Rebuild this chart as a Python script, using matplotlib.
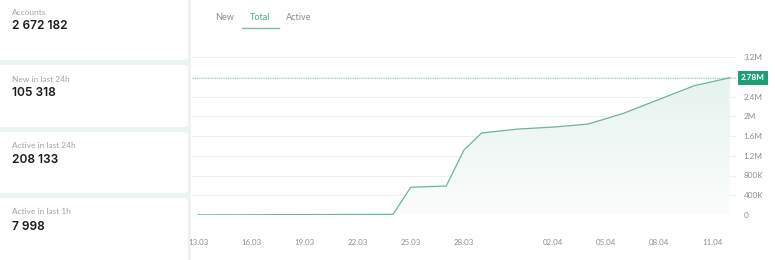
import numpy as np
import matplotlib
matplotlib.use("Agg")
import matplotlib.pyplot as plt
from matplotlib.patches import FancyBboxPatch, Polygon, Rectangle
from matplotlib.colors import LinearSegmentedColormap

# card data
card_labels = ["Accounts", "New in last 24h", "Active in last 24h", "Active in last 1h"]
card_values = ["2 672 182", "105 318", "208 133", "7 998"]

# chart data (total accounts, millions)
dates = ["13.03", "14.03", "15.03", "16.03", "17.03", "18.03", "19.03", "20.03",
         "21.03", "22.03", "23.03", "24.03", "25.03", "26.03", "27.03", "28.03",
         "29.03", "30.03", "31.03", "01.04", "02.04", "03.04", "04.04", "05.04",
         "06.04", "07.04", "08.04", "09.04", "10.04", "11.04", "12.04"]
totals = [0.002, 0.003, 0.004, 0.005, 0.006, 0.007, 0.008, 0.009, 0.010, 0.011,
          0.012, 0.014, 0.562, 0.575, 0.587, 1.316, 1.662, 1.700, 1.740, 1.760,
          1.780, 1.810, 1.843, 1.950, 2.060, 2.200, 2.340, 2.480, 2.620, 2.700, 2.780]
tick_dates = ["13.03", "16.03", "19.03", "22.03", "25.03", "28.03",
              "02.04", "05.04", "08.04", "11.04"]
y_ticks = [0, 0.4, 0.8, 1.2, 1.6, 2.0, 2.4, 2.8, 3.2]
y_labels = ["0", "400K", "800K", "1.2M", "1.6M", "2M", "2.4M", "", "3.2M"]
tabs = ["New", "Total", "Active"]
last_label = "2.78M"

W, H = 775, 260
GREEN_LINE = "#6cb59c"
GREEN_BOX = "#1f9e78"
BG = "#edf3f1"

fig = plt.figure(figsize=(W / 100, H / 100), dpi=100)
fig.patch.set_facecolor(BG)

# background / layout axes in pixel coords
bg = fig.add_axes([0, 0, 1, 1])
bg.set_xlim(0, W)
bg.set_ylim(H, 0)
bg.axis("off")

card_tops = [-8, 65, 132, 198]
card_bots = [60, 127, 193, 268]
label_y = [12.3, 79, 146, 212]
value_y = [26.3, 93, 160, 227]
for top, bot, lab, val, ly, vy in zip(card_tops, card_bots, card_labels,
                                      card_values, label_y, value_y):
    bg.add_patch(FancyBboxPatch((-10, top), 198, bot - top,
                                boxstyle="round,pad=0,rounding_size=4",
                                fc="white", ec="none"))
    bg.text(12, ly, lab, fontsize=6.0, color="#a3a3a3",
            family="Lato", va="center", ha="left")
    bg.text(12, vy, val, fontsize=8.6, color="#1c1c1c",
            family="Inter", fontweight="semibold", va="center", ha="left")

# right panel
bg.add_patch(Rectangle((191, -5), W, H + 10, fc="white", ec="none"))

# tabs
tab_x = [225, 260, 299]
for tx, t in zip(tab_x, tabs):
    bg.text(tx, 17.5, t, fontsize=6.6, family="Lato", ha="center", va="center",
            color="#4fa888" if t == "Total" else "#8a8a8a")
bg.plot([241.5, 278.5], [28.3, 28.3], color="#7cbfa8", lw=1.0)

# chart axes: x px 192..736, y px 57..215
ax = fig.add_axes([192 / W, (H - 215) / H, (736 - 192) / W, (215 - 57) / H])
ax.set_facecolor("none")
x = np.arange(len(dates))
px_per_day = 17.73

for s in ax.spines.values():
    s.set_visible(False)

ax.set_yticks(y_ticks)
ax.set_yticklabels(y_labels)
ax.yaxis.tick_right()
ax.tick_params(axis="y", length=0, pad=5.5, labelsize=5.9, labelcolor="#8f8f8f")
ax.set_xticks([dates.index(d) for d in tick_dates])
ax.set_xticklabels(tick_dates)
ax.tick_params(axis="x", length=0, pad=17, labelsize=5.7, labelcolor="#8f8f8f")
for lab in ax.get_xticklabels() + ax.get_yticklabels():
    lab.set_family("Lato")
ax.grid(axis="y", color="#eef1f0", lw=0.8)
ax.set_axisbelow(True)

# gradient fill under the line
verts = np.column_stack([np.concatenate([x, x[::-1]]),
                         np.concatenate([totals, np.zeros(len(x))])])
poly = Polygon(verts, closed=True, fc="none", ec="none")
ax.add_patch(poly)
grad = np.linspace(1, 0, 200).reshape(-1, 1)
cmap = LinearSegmentedColormap.from_list("g", ["#fbfdfc", "#e6f3ee"])
im = ax.imshow(grad, cmap=cmap, aspect="auto", extent=[x[0], x[-1], 0, max(totals)],
               origin="upper", zorder=1)
im.set_clip_path(poly)

ax.plot(x, totals, color=GREEN_LINE, lw=0.9, zorder=3)

# last value guide and label
ax.axhline(totals[-1], color="#9fc9bb", lw=0.8, ls=(0, (1, 1)), zorder=2)
ax.set_xlim(-6 / px_per_day, 538 / px_per_day)
ax.set_ylim(0, 3.2)
ax.text(1.0 + 5 / 544, totals[-1] / 3.2, last_label, transform=ax.transAxes,
        fontsize=5.9, color="white", fontweight="bold", family="Lato",
        ha="left", va="center",
        bbox=dict(boxstyle="square,pad=0.4", fc=GREEN_BOX, ec="none"))

fig.savefig("out.png", dpi=100, facecolor=BG)
